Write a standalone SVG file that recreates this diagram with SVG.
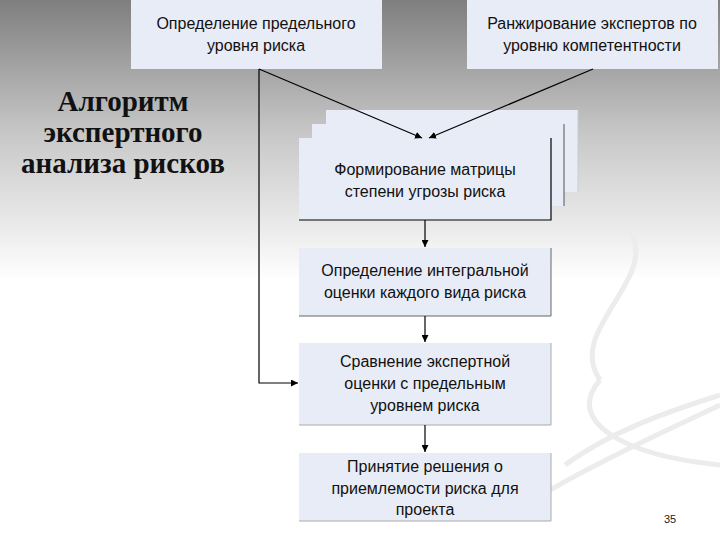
<svg xmlns="http://www.w3.org/2000/svg" width="720" height="540" viewBox="0 0 720 540">
<defs>
<linearGradient id="bg" x1="0" y1="0" x2="0" y2="1">
<stop offset="0" stop-color="#7f7f7f"/><stop offset="0.25" stop-color="#c8c8c8"/><stop offset="0.52" stop-color="#ffffff"/><stop offset="1" stop-color="#ffffff"/>
</linearGradient>
<marker id="ah" viewBox="0 0 10 10" refX="10" refY="5" markerWidth="7" markerHeight="7" orient="auto" markerUnits="userSpaceOnUse"><path d="M0,0 L10,5 L0,10 z" fill="#000"/></marker>
<style>
.box{fill:#e8ecf6;}
.t{font-family:'Liberation Sans',Arial,sans-serif;font-size:16px;fill:#111;text-anchor:middle;}
.title{font-family:'Liberation Serif','Times New Roman',serif;font-weight:bold;font-size:29px;fill:#111;text-anchor:middle;}
.c{fill:none;stroke:#000;stroke-width:1.2;}
</style>
</defs>
<rect width="720" height="540" fill="url(#bg)"/>
<g fill="none" stroke="#ececec" stroke-width="5">
<path d="M550 490 C620 450 690 420 720 405"/>
<path d="M565 465 C620 425 690 405 720 395"/>
<path d="M600 380 C565 420 620 455 720 465"/>
<path d="M630 230 C660 280 565 330 600 380"/>
</g>
<g id="title">
<text class="title" x="123" y="111">Алгоритм</text>
<text class="title" x="123" y="142">экспертного</text>
<text class="title" x="123" y="173">анализа рисков</text>
</g>
<g id="n1"><rect class="box" x="131" y="0" width="251" height="69"/>
<text class="t" x="256" y="29">Определение предельного</text><text class="t" x="256" y="51">уровня риска</text></g>
<g id="n2"><rect class="box" x="467" y="0" width="251" height="69"/>
<text class="t" x="592" y="29">Ранжирование экспертов по</text><text class="t" x="592" y="51">уровню компетентности</text></g>
<g id="n3">
<rect class="box" x="326" y="110" width="252" height="82"/><line x1="578" y1="110" x2="578" y2="192" stroke="#c8ccd6"/>
<rect class="box" x="312" y="124" width="252" height="82"/><line x1="564" y1="124" x2="564" y2="206" stroke="#555"/>
<rect class="box" x="299" y="138" width="252" height="82"/>
<path d="M551 138 V220 H299" class="c" stroke-width="1"/>
<text class="t" x="425" y="175">Формирование матрицы</text><text class="t" x="425" y="197">степени угрозы риска</text></g>
<g id="n4"><rect class="box" x="299" y="248" width="252" height="68"/><path d="M551 248 V316 H299" fill="none" stroke="#666"/>
<text class="t" x="425" y="276">Определение интегральной</text><text class="t" x="425" y="298">оценки каждого вида риска</text></g>
<g id="n5"><rect class="box" x="299" y="343" width="252" height="82"/><path d="M551 343 V425 H299" stroke="#aaa" fill="none"/>
<text class="t" x="425" y="367">Сравнение экспертной</text><text class="t" x="425" y="389">оценки с предельным</text><text class="t" x="425" y="411">уровнем риска</text></g>
<g id="n6"><rect class="box" x="299" y="453" width="252" height="68"/><path d="M551 453 V521 H299" stroke="#aaa" fill="none"/>
<text class="t" x="425" y="472">Принятие решения о</text><text class="t" x="425" y="494">приемлемости риска для</text><text class="t" x="425" y="515">проекта</text></g>
<g id="connectors">
<line class="c" x1="259" y1="69" x2="422" y2="138" marker-end="url(#ah)"/>
<line class="c" x1="593" y1="69" x2="429" y2="138" marker-end="url(#ah)"/>
<polyline class="c" points="259,69 259,383 298,383" marker-end="url(#ah)"/>
<line class="c" x1="425" y1="220" x2="425" y2="247" marker-end="url(#ah)"/>
<line class="c" x1="425" y1="316" x2="425" y2="342" marker-end="url(#ah)"/>
<line class="c" x1="425" y1="425" x2="425" y2="452" marker-end="url(#ah)"/>
</g>
<text x="670" y="523" font-family="'Liberation Sans',Arial,sans-serif" font-size="11" text-anchor="middle" fill="#222">35</text>
</svg>
